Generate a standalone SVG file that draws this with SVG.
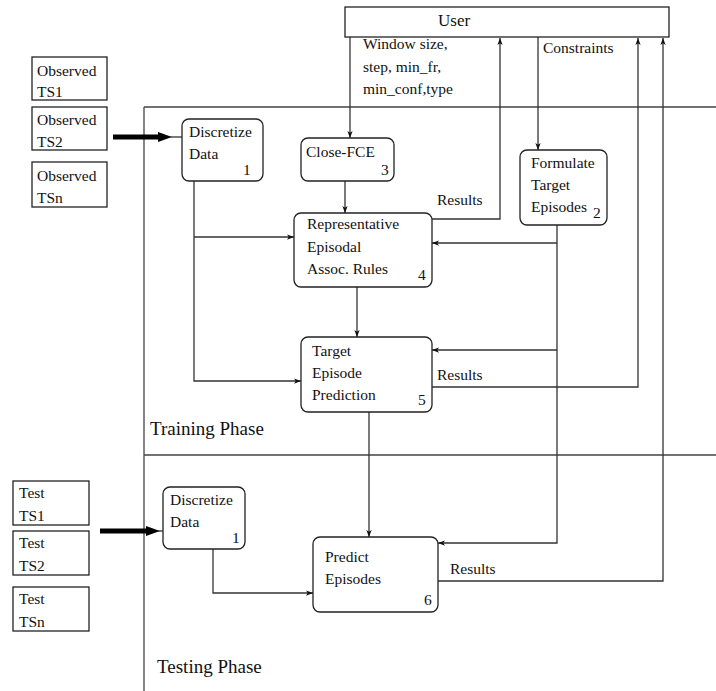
<svg xmlns="http://www.w3.org/2000/svg" width="716" height="691" viewBox="0 0 716 691" font-family="Liberation Serif, serif" font-size="15.5">
<defs>
<style>
.box{fill:#fff;stroke:#222;stroke-width:1.3}
.ln{fill:none;stroke:#333;stroke-width:1.3}
.frame{fill:none;stroke:#444;stroke-width:1.3}
.thick{fill:none;stroke:#000;stroke-width:5}
</style>
<marker id="ah" viewBox="0 0 8 8" refX="8" refY="4" markerWidth="7" markerHeight="7" markerUnits="userSpaceOnUse" orient="auto">
<path d="M0,1 L8,4 L0,7 L2,4 Z" fill="#111"/>
</marker>
</defs>
<rect width="716" height="691" fill="#fff"/>

<g id="frame" fill="#111">
<path class="frame" d="M144,107 H716 M144,107 V691 M144,455 H716"/>
<text x="150" y="435" font-size="19">Training Phase</text>
<text x="157" y="673" font-size="19">Testing Phase</text>
</g>

<g id="connectors" fill="#111">
<path class="ln" d="M350,37 V138" marker-end="url(#ah)"/>
<path class="ln" d="M538,37 V150" marker-end="url(#ah)"/>
<path class="ln" d="M432,219 H500 V38" marker-end="url(#ah)"/>
<path class="ln" d="M432,387 H638 V38" marker-end="url(#ah)"/>
<path class="ln" d="M438,581 H663 V38" marker-end="url(#ah)"/>
<path class="ln" d="M345,181 V213" marker-end="url(#ah)"/>
<path class="ln" d="M357,287 V337" marker-end="url(#ah)"/>
<path class="ln" d="M557,225 V543 H438" marker-end="url(#ah)"/>
<path class="ln" d="M557,243 H432" marker-end="url(#ah)"/>
<path class="ln" d="M557,350 H432" marker-end="url(#ah)"/>
<path class="ln" d="M194,181 V381 H301" marker-end="url(#ah)"/>
<path class="ln" d="M194,237 H294" marker-end="url(#ah)"/>
<path class="ln" d="M369,412 V537" marker-end="url(#ah)"/>
<path class="ln" d="M213,549 V593 H313" marker-end="url(#ah)"/>
<path class="thick" d="M113,137 H162"/>
<path d="M158,132 L172,137 L158,142 Z" fill="#000"/>
<path class="ln" d="M170,137 H182"/>
<path class="thick" d="M100,531 H150"/>
<path d="M146,526 L160,531 L146,536 Z" fill="#000"/>
<path class="ln" d="M158,531 H164"/>
<text x="363" y="49">Window size,</text>
<text x="363" y="72">step, min_fr,</text>
<text x="363" y="94">min_conf,type</text>
<text x="543" y="53">Constraints</text>
<text x="437" y="205">Results</text>
<text x="437" y="380">Results</text>
<text x="450" y="574">Results</text>
</g>

<g id="user" fill="#111">
<rect class="box" x="345" y="7" width="324" height="30"/>
<text x="438" y="26" font-size="17">User</text>
</g>

<g id="obs-ts1" fill="#111">
<rect class="box" x="32" y="57" width="75" height="43"/>
<text x="37" y="76">Observed</text>
<text x="37" y="97">TS1</text>
</g>
<g id="obs-ts2" fill="#111">
<rect class="box" x="32" y="107" width="75" height="43"/>
<text x="37" y="125">Observed</text>
<text x="37" y="147">TS2</text>
</g>
<g id="obs-tsn" fill="#111">
<rect class="box" x="32" y="162" width="75" height="45"/>
<text x="37" y="181">Observed</text>
<text x="37" y="203">TSn</text>
</g>

<g id="discretize-train" fill="#111">
<rect class="box" x="182" y="119" width="81" height="62" rx="7"/>
<text x="189" y="137">Discretize</text>
<text x="189" y="159">Data</text>
<text x="243" y="175">1</text>
</g>

<g id="close-fce" fill="#111">
<rect class="box" x="301" y="138" width="93" height="43" rx="7"/>
<text x="306" y="157">Close-FCE</text>
<text x="381" y="175">3</text>
</g>

<g id="formulate" fill="#111">
<rect class="box" x="520" y="150" width="87" height="75" rx="7"/>
<text x="531" y="168">Formulate</text>
<text x="531" y="190">Target</text>
<text x="531" y="212">Episodes</text>
<text x="593" y="218">2</text>
</g>

<g id="rep-rules" fill="#111">
<rect class="box" x="294" y="213" width="138" height="74" rx="7"/>
<text x="307" y="229">Representative</text>
<text x="307" y="252">Episodal</text>
<text x="307" y="274">Assoc. Rules</text>
<text x="418" y="280">4</text>
</g>

<g id="target-pred" fill="#111">
<rect class="box" x="301" y="337" width="131" height="75" rx="7"/>
<text x="312" y="356">Target</text>
<text x="312" y="378">Episode</text>
<text x="312" y="400">Prediction</text>
<text x="418" y="405">5</text>
</g>

<g id="test-ts1" fill="#111">
<rect class="box" x="13" y="481" width="76" height="44"/>
<text x="19" y="498">Test</text>
<text x="19" y="521">TS1</text>
</g>
<g id="test-ts2" fill="#111">
<rect class="box" x="13" y="531" width="76" height="44"/>
<text x="19" y="548">Test</text>
<text x="19" y="571">TS2</text>
</g>
<g id="test-tsn" fill="#111">
<rect class="box" x="13" y="587" width="76" height="44"/>
<text x="19" y="604">Test</text>
<text x="19" y="627">TSn</text>
</g>

<g id="discretize-test" fill="#111">
<rect class="box" x="163" y="487" width="82" height="62" rx="7"/>
<text x="170" y="505">Discretize</text>
<text x="170" y="527">Data</text>
<text x="232" y="543">1</text>
</g>

<g id="predict" fill="#111">
<rect class="box" x="313" y="537" width="125" height="75" rx="7"/>
<text x="325" y="562">Predict</text>
<text x="325" y="584">Episodes</text>
<text x="424" y="605">6</text>
</g>
</svg>
